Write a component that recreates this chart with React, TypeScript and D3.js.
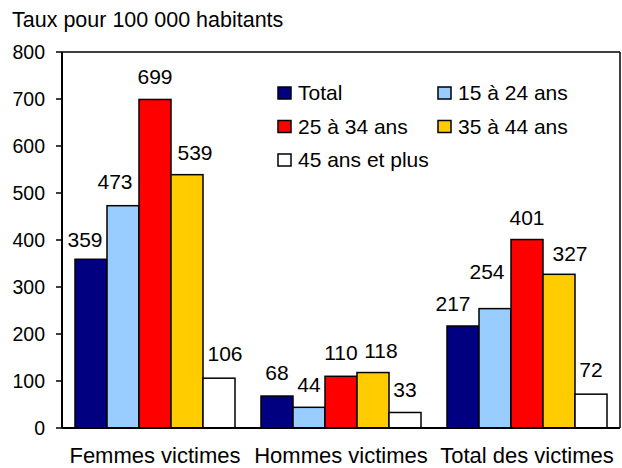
import React from "react";
import * as d3 from "d3";

const categories = ["Femmes victimes", "Hommes victimes", "Total des victimes"];
const seriesNames = ["Total", "15 à 24 ans", "25 à 34 ans", "35 à 44 ans", "45 ans et plus"];
const seriesColors = ["#000080", "#99ccff", "#ff0000", "#ffcc00", "#ffffff"];
const valTotal = [359, 68, 217];
const val15 = [473, 44, 254];
const val25 = [699, 110, 401];
const val35 = [539, 118, 327];
const val45 = [106, 33, 72];
const seriesValues = [valTotal, val15, val25, val35, val45];
const yTicks = [0, 100, 200, 300, 400, 500, 600, 700, 800];

const W = 622, H = 468;
const L = 62, R = 620, T = 52, B = 428;
const font = "'Liberation Sans', Arial, sans-serif";

// label placement nudges [series][category] as [dx, dy] (layout only)
const nudges: number[][][] = [
  [[-6, 3], [0, -1], [-10, 0]],
  [[-8, -2], [0, 0], [-8, -15]],
  [[0, 0], [0, -1], [0, 0]],
  [[8, 0], [8, 0], [11, 2]],
  [[6, -2], [0, 0], [0, -2]],
];

export default function App() {
  const x0 = d3.scaleBand().domain(categories).range([L, R]).paddingInner(0).paddingOuter(0);
  const y = d3.scaleLinear().domain([0, 800]).range([B, T]);
  const inner = d3.scaleBand().domain(seriesNames).range([13, x0.bandwidth() - 13]);
  const legendPos = [
    [278, 93], [438, 93], [278, 126.5], [438, 126.5], [278, 160],
  ];
  return (
    <svg width={W} height={H} style={{ position: "absolute", left: 0, top: 0 }} fontFamily={font}>
      <rect width={W} height={H} fill="#fff" />
      <text x={12} y={27} fontSize={21.5} fill="#000">Taux pour 100 000 habitants</text>
      <line x1={L} x2={R} y1={T} y2={T} stroke="#000" strokeWidth={1.5} />
      <line x1={R} x2={R} y1={T} y2={B} stroke="#000" strokeWidth={1.5} />
      {seriesNames.map((s, si) =>
        categories.map((c, ci) => {
          const v = seriesValues[si][ci];
          const bx = (x0(c) as number) + (inner(s) as number);
          const bw = inner.bandwidth();
          return (
            <rect key={s + c} x={bx} y={y(v)} width={bw} height={B - y(v)} fill={seriesColors[si]} stroke="#000" strokeWidth={1.5} />
          );
        })
      )}
      {seriesNames.map((s, si) =>
        categories.map((c, ci) => {
          const v = seriesValues[si][ci];
          const bx = (x0(c) as number) + (inner(s) as number);
          const bw = inner.bandwidth();
          const [dx, dy] = nudges[si][ci];
          return (
            <text key={"l" + s + c} x={bx + bw / 2 + dx} y={y(v) - 15 + dy} textAnchor="middle" fontSize={21}>{v}</text>
          );
        })
      )}
      <line x1={L} x2={L} y1={T} y2={B} stroke="#000" strokeWidth={2} />
      <line x1={L} x2={R} y1={B} y2={B} stroke="#000" strokeWidth={2} />
      {yTicks.map((t) => (
        <g key={t}>
          <line x1={L - 6} x2={L} y1={y(t)} y2={y(t)} stroke="#000" strokeWidth={1.5} />
          <text x={45} y={y(t) + 7} textAnchor="end" fontSize={19.5}>{t}</text>
        </g>
      ))}
      {categories.map((c) => (
        <text key={c} x={(x0(c) as number) + x0.bandwidth() / 2} y={463} textAnchor="middle" fontSize={22}>{c}</text>
      ))}
      {seriesNames.map((s, i) => (
        <g key={s}>
          <rect x={legendPos[i][0]} y={legendPos[i][1] - 6} width={13} height={12} fill={seriesColors[i]} stroke="#000" strokeWidth={1.5} />
          <text x={legendPos[i][0] + 20} y={legendPos[i][1] + 7} fontSize={21}>{s}</text>
        </g>
      ))}
    </svg>
  );
}
